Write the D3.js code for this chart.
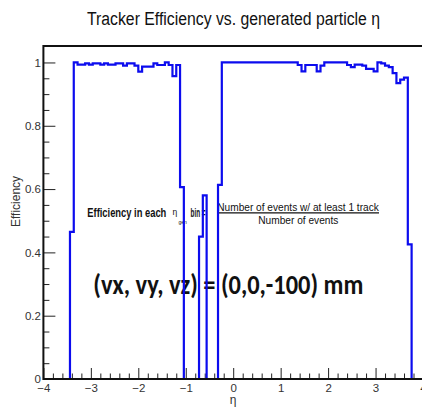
<!DOCTYPE html>
<html>
<head>
<meta charset="utf-8">
<script src="https://cdn.jsdelivr.net/npm/d3@7"></script>
<style>
  html, body { margin: 0; padding: 0; background: #fff; }
  svg { display: block; }
</style>
</head>
<body>
<svg id="chart" width="422" height="409"></svg>
<script>
// ---------------- data ----------------
const binLow = -4, binHigh = 4, binWidth = 0.08;   // 100 bins in eta
const efficiency = [
  // -4.00 .. -3.44
  0, 0, 0, 0, 0, 0, 0,
  // -3.44
  0.465,
  // -3.36 .. -1.20 (left plateau)
  1.0, 0.993, 0.993, 0.997, 0.993, 0.997, 0.997, 0.993, 0.997, 0.993,
  0.993, 0.997, 0.997, 0.99, 0.997, 0.997, 0.99, 0.971, 0.987, 0.987,
  0.987, 0.997, 0.992, 0.992, 1.0, 0.992, 0.957, 0.992,
  // -1.12
  0.606,
  // -1.04 .. -0.72
  0, 0, 0, 0,
  // -0.72, -0.64
  0.45, 0.58,
  // -0.56 .. -0.32
  0, 0, 0,
  // -0.32
  0.613,
  // -0.24 .. 1.36 (flat)
  1.0, 1.0, 1.0, 1.0, 1.0, 1.0, 1.0, 1.0, 1.0, 1.0,
  1.0, 1.0, 1.0, 1.0, 1.0, 1.0, 1.0, 1.0, 1.0, 1.0,
  // 1.36 .. 3.60
  0.992, 0.972, 0.992, 0.992, 0.992, 0.972, 0.99, 1.0, 1.0, 1.0,
  1.0, 1.0, 1.0, 0.992, 0.985, 0.993, 0.993, 0.99, 0.98, 0.98,
  0.972, 1.0, 0.997, 0.99, 0.985, 0.966, 0.935, 0.946, 0.952,
  // 3.68
  0.425,
  // 3.76 .. 3.92
  0, 0, 0
];
const yTickValues = [0, 0.2, 0.4, 0.6, 0.8, 1];
const yTickLabels = ["0", "0.2", "0.4", "0.6", "0.8", "1"];
const xTickValues = [-4, -3, -2, -1, 0, 1, 2, 3, 4];
const xTickLabels = ["\u22124", "\u22123", "\u22122", "\u22121", "0", "1", "2", "3", "4"];
const titleText = "Tracker Efficiency vs. generated particle \u03b7";
const yTitle = "Efficiency";
const xTitle = "\u03b7";
const bigNote = "(vx, vy, vz) = (0,0,-100) mm";
const numeratorText = "Number of events w/ at least 1 track";
const denominatorText = "Number of events";

// ---------------- layout ----------------
const svg = d3.select("#chart");
const L = 43.4, R = 423, T = 46, B = 379;
const x = d3.scaleLinear().domain([binLow, binHigh]).range([L, R]);
const y = d3.scaleLinear().domain([0, 1.052]).range([B, T]);
const blue = "rgb(12,12,238)";
const sans = "Liberation Sans, Arial, sans-serif";
const narrow = "'Liberation Sans Narrow', 'Arial Narrow', 'Liberation Sans', sans-serif";

// title
svg.append("text")
  .attr("x", 233.5).attr("y", 25)
  .attr("text-anchor", "middle")
  .attr("font-family", sans).attr("font-size", 18)
  .attr("textLength", 293).attr("lengthAdjust", "spacingAndGlyphs")
  .attr("fill", "#111")
  .text(titleText);

// annotations (under histogram)
const ann = svg.append("g").attr("fill", "#111");
ann.append("text").attr("x", 87.3).attr("y", 217)
  .attr("font-family", narrow).attr("font-weight", "bold").attr("font-size", 12)
  .attr("textLength", 79).attr("lengthAdjust", "spacingAndGlyphs")
  .text("Efficiency in each");
ann.append("text").attr("x", 172.5).attr("y", 215)
  .attr("font-family", sans).attr("font-size", 8.5).text("\u03b7");
ann.append("text").attr("x", 178.5).attr("y", 223.5)
  .attr("font-family", sans).attr("font-size", 5).text("gen");
ann.append("text").attr("x", 190.5).attr("y", 217)
  .attr("font-family", narrow).attr("font-weight", "bold").attr("font-size", 12)
  .attr("textLength", 15).attr("lengthAdjust", "spacingAndGlyphs")
  .text("bin =");
ann.append("text").attr("x", 217.3).attr("y", 210.5)
  .attr("font-family", narrow).attr("font-size", 11.5)
  .attr("textLength", 161.5).attr("lengthAdjust", "spacingAndGlyphs")
  .text(numeratorText);
ann.append("line").attr("x1", 217.3).attr("x2", 379).attr("y1", 212.8).attr("y2", 212.8)
  .attr("stroke", "#111").attr("stroke-width", 1.3);
ann.append("text").attr("x", 298.3).attr("y", 223.5)
  .attr("text-anchor", "middle")
  .attr("font-family", narrow).attr("font-size", 11.5)
  .attr("textLength", 80).attr("lengthAdjust", "spacingAndGlyphs")
  .text(denominatorText);
ann.append("text").attr("x", 93.3).attr("y", 294)
  .attr("font-family", "Carlito, Lato, 'Open Sans', sans-serif").attr("font-weight", "bold")
  .attr("font-size", 28)
  .attr("textLength", 270).attr("lengthAdjust", "spacingAndGlyphs")
  .text(bigNote);

// axes ticks (inside frame)
const majorY = d3.axisLeft(y).tickValues(yTickValues)
  .tickFormat((d, i) => yTickLabels[i]).tickSize(-12).tickPadding(2.5);
const minorYVals = d3.range(0, 21).map(i => i * 0.05).filter(v => Math.abs(v * 5 - Math.round(v * 5)) > 1e-6);
const minorY = d3.axisLeft(y).tickValues(minorYVals).tickFormat("").tickSize(-6);
const gy = svg.append("g").attr("transform", `translate(${L},0)`).call(majorY);
const gy2 = svg.append("g").attr("transform", `translate(${L},0)`).call(minorY);

const majorX = d3.axisBottom(x).tickValues(xTickValues)
  .tickFormat((d, i) => xTickLabels[i]).tickSize(-11).tickPadding(5);
const minorXVals = d3.range(0, 41).map(i => -4 + i * 0.2).filter(v => Math.abs(v - Math.round(v)) > 1e-6);
const minorX = d3.axisBottom(x).tickValues(minorXVals).tickFormat("").tickSize(-5.5);
const gx = svg.append("g").attr("transform", `translate(0,${B})`).call(majorX);
const gx2 = svg.append("g").attr("transform", `translate(0,${B})`).call(minorX);

[gy, gy2, gx, gx2].forEach(g => {
  g.select(".domain").remove();
  g.selectAll(".tick line").attr("stroke", "#222").attr("stroke-width", 1);
  g.selectAll(".tick text").attr("font-family", sans).attr("font-size", 11.5).attr("fill", "#333");
});

// axis titles
svg.append("text")
  .attr("transform", "translate(20,201.5) rotate(-90)")
  .attr("text-anchor", "middle")
  .attr("font-family", sans).attr("font-size", 12).attr("fill", "#333")
  .text(yTitle);
svg.append("text")
  .attr("x", x(0)).attr("y", 404)
  .attr("text-anchor", "middle")
  .attr("font-family", sans).attr("font-size", 12).attr("fill", "#333")
  .text(xTitle);

// histogram (step outline)
const pts = efficiency.map((v, i) => [binLow + i * binWidth, v]);
pts.push([binHigh, efficiency[efficiency.length - 1]]);
const line = d3.line().x(d => x(d[0])).y(d => y(d[1])).curve(d3.curveStepAfter);
svg.append("path")
  .attr("d", line(pts))
  .attr("fill", "none").attr("stroke", blue).attr("stroke-width", 2.2);

// frame
svg.append("rect")
  .attr("x", L).attr("y", T).attr("width", R - L).attr("height", B - T)
  .attr("fill", "none").attr("stroke", "#111").attr("stroke-width", 2);
</script>
</body>
</html>
